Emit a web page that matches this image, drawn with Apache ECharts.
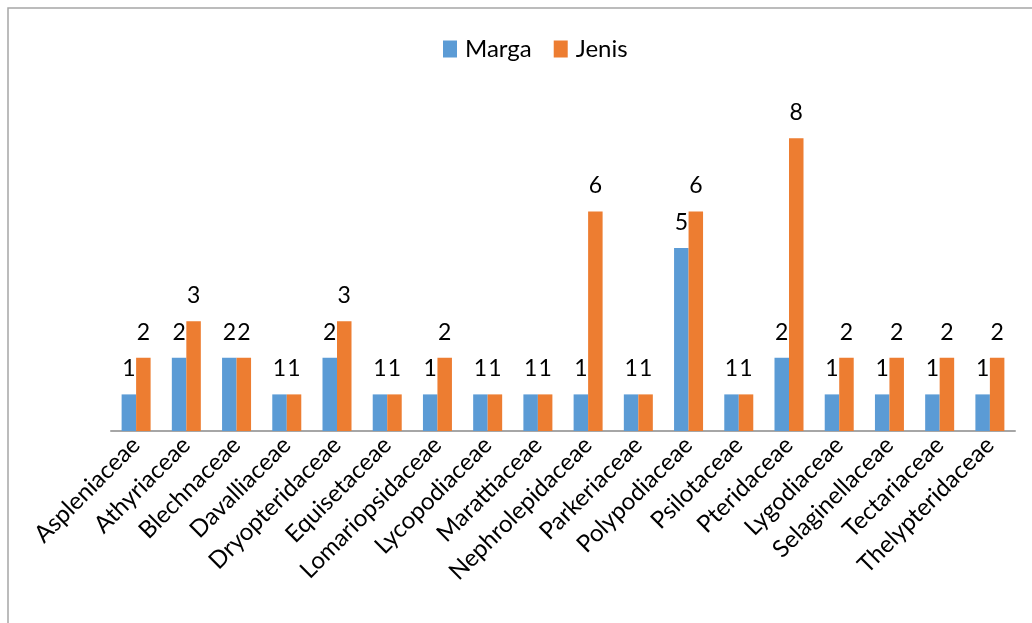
<!DOCTYPE html>
<html>
<head>
<meta charset="utf-8">
<script src="https://cdn.jsdelivr.net/npm/echarts@6/dist/echarts.min.js"></script>
<style>html,body{margin:0;padding:0;background:#fff}#c{width:1032px;height:623px}</style>
</head>
<body>
<div id="c"></div>
<script>
const categories = ["Aspleniaceae","Athyriaceae","Blechnaceae","Davalliaceae","Dryopteridaceae","Equisetaceae","Lomariopsidaceae","Lycopodiaceae","Marattiaceae","Nephrolepidaceae","Parkeriaceae","Polypodiaceae","Psilotaceae","Pteridaceae","Lygodiaceae","Selaginellaceae","Tectariaceae","Thelypteridaceae"];
const marga = [1,2,2,1,2,1,1,1,1,1,1,5,1,2,1,1,1,1];
const jenis = [2,3,2,1,3,1,2,1,1,6,1,6,1,8,2,2,2,2];
const FONT = 'Lato, "Open Sans", sans-serif';
const chart = echarts.init(document.getElementById('c'));
const lbl = {show:true, position:'top', distance:14, color:'#000', fontSize:23, fontFamily:FONT};
chart.setOption({
  animation:false,
  graphic:[{type:'rect', shape:{x:8,y:8,width:1100,height:700}, style:{fill:'none', stroke:'#A6A6A6', lineWidth:1.5}, silent:true}],
  legend:{top:32, left:438, itemWidth:14, itemHeight:17, itemGap:22, icon:'rect',
    textStyle:{fontSize:24, fontFamily:FONT, color:'#000', padding:[0,0,0,3]}},
  grid:{left:111, right:17, top:65, bottom:192, containLabel:false},
  xAxis:{type:'category', data:categories,
    axisLine:{lineStyle:{color:'#A6A6A6', width:2}}, axisTick:{show:false},
    axisLabel:{rotate:45, interval:0, fontSize:24, fontFamily:FONT, color:'#000', margin:10}},
  yAxis:{type:'value', min:0, max:10, show:false, splitLine:{show:false}},
  series:[
    {name:'Marga', type:'bar', data:marga, barWidth:14.5, barGap:'0%', itemStyle:{color:'#5B9BD5'}, label:lbl},
    {name:'Jenis', type:'bar', data:jenis, barWidth:14.5, barGap:'0%', itemStyle:{color:'#ED7D31'}, label:lbl}
  ]
});
</script>
</body>
</html>
